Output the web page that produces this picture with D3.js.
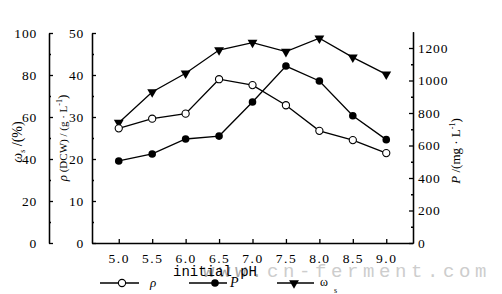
<!DOCTYPE html>
<html><head><meta charset="utf-8">
<script src="https://cdn.jsdelivr.net/npm/d3@7"></script>
<style>
body{margin:0;background:#fff;}
svg text{font-family:"Liberation Serif","Times New Roman",serif;fill:#000;}
</style></head>
<body><svg id="c" width="502" height="294"></svg>
<script>
const pH = [5.0, 5.5, 6.0, 6.5, 7.0, 7.5, 8.0, 8.5, 9.0];
const rho = [27.3, 29.6, 30.8, 39.0, 37.6, 32.8, 26.7, 24.5, 21.4];      // g/L
const P = [505, 548, 640, 658, 868, 1089, 997, 783, 636];               // mg/L
const omega = [57.3, 71.9, 80.8, 91.9, 95.4, 91.1, 97.5, 88.4, 80.3];   // %
const xTicks = [5.0, 5.5, 6.0, 6.5, 7.0, 7.5, 8.0, 8.5, 9.0];
const omegaTicks = [0, 20, 40, 60, 80, 100];
const rhoTicks = [0, 10, 20, 30, 40, 50];
const pTicks = [0, 200, 400, 600, 800, 1000, 1200];

const SERIF = "'Liberation Serif','Times New Roman',serif";
const MONO = "'Liberation Mono','Courier New',monospace";
const svg = d3.select("#c");
const x = d3.scaleLinear().domain([4.6, 9.4]).range([92, 413]);
const yO = d3.scaleLinear().domain([0, 100]).range([243, 33]);
const yR = d3.scaleLinear().domain([0, 50]).range([243, 33]);
const yP = d3.scaleLinear().domain([0, 1300]).range([243, 31.75]);

function styleAxis(g){
  g.attr("font-family", null);
  g.selectAll("path,line").attr("stroke","#000").attr("stroke-width",1.3);
  g.selectAll("text").style("font-family",SERIF).style("font-size","13.5px").attr("letter-spacing",0.8);
}
// omega axis
svg.append("g").attr("transform","translate(49,0)")
  .call(d3.axisLeft(yO).tickValues(omegaTicks).tickFormat(d3.format("d")).tickSize(-4).tickSizeOuter(0).tickPadding(12))
  .call(styleAxis);
svg.append("g").attr("transform","translate(49,0)")
  .call(d3.axisLeft(yO).tickValues(d3.range(10,100,20)).tickFormat("").tickSize(-2).tickSizeOuter(0))
  .call(styleAxis);
// rho axis
svg.append("g").attr("transform","translate(92,0)")
  .call(d3.axisLeft(yR).tickValues(rhoTicks).tickFormat(d3.format("d")).tickSize(-4).tickSizeOuter(0).tickPadding(8))
  .call(styleAxis);
svg.append("g").attr("transform","translate(92,0)")
  .call(d3.axisLeft(yR).tickValues(d3.range(5,50,10)).tickFormat("").tickSize(-2).tickSizeOuter(0))
  .call(styleAxis);
// P axis
svg.append("g").attr("transform","translate(413,0)")
  .call(d3.axisRight(yP).tickValues(pTicks).tickFormat(d3.format("d")).tickSize(-4).tickSizeOuter(0).tickPadding(5))
  .call(styleAxis);
svg.append("g").attr("transform","translate(413,0)")
  .call(d3.axisRight(yP).tickValues(d3.range(100,1300,200)).tickFormat("").tickSize(-2).tickSizeOuter(0))
  .call(styleAxis);
// x axis
svg.append("g").attr("transform","translate(0,243)")
  .call(d3.axisBottom(x).tickValues(xTicks).tickFormat(d3.format(".1f")).tickSize(-4).tickSizeOuter(0).tickPadding(10))
  .call(styleAxis)
  .selectAll("text").attr("letter-spacing",1.5);

// axis titles
const t1 = svg.append("text").attr("transform","translate(22,142) rotate(-90)").attr("text-anchor","middle").style("font-size","14px");
t1.append("tspan").attr("font-style","italic").text("ω");
t1.append("tspan").style("font-size","8px").attr("dy",3).text("s");
t1.append("tspan").attr("dy",-3).text(" /(%)");
const t2 = svg.append("text").attr("transform","translate(67,138) rotate(-90)").attr("text-anchor","middle").style("font-size","13px");
t2.append("tspan").attr("font-style","italic").text("ρ");
t2.append("tspan").style("font-size","11px").text(" (DCW) / (g · L");
t2.append("tspan").style("font-size","8px").attr("dy",-5).text("-1");
t2.append("tspan").attr("dy",5).text(")");
const t3 = svg.append("text").attr("transform","translate(460,151) rotate(-90)").attr("text-anchor","middle").style("font-size","13px");
t3.append("tspan").attr("font-style","italic").text("P");
t3.append("tspan").text(" /(mg · L");
t3.append("tspan").style("font-size","8px").attr("dy",-5).text("-1");
t3.append("tspan").attr("dy",5).text(")");

// watermark
const wm = svg.append("text").attr("x",203).attr("y",277)
  .style("font-family",MONO).style("font-size","19px").attr("letter-spacing",4.6);
wm.append("tspan").style("fill","#a8a8a8").text("www.");
wm.append("tspan").style("fill","#cdcdcd").text("cn-ferment.com");

svg.append("text").attr("x",215).attr("y",276).attr("text-anchor","middle")
  .style("font-family",MONO).style("font-size","14px").text("initial pH");

// series
const line = (ys, data) => d3.line().x((d,i)=>x(pH[i])).y(d=>ys(d))(data);
function series(ys, data){
  svg.append("path").attr("d", line(ys, data)).attr("fill","none").attr("stroke","#000").attr("stroke-width",1.3);
}
series(yO, omega); series(yR, rho); series(yP, P);
const tri = d3.symbol().type(d3.symbolTriangle).size(42);
svg.selectAll(".tri").data(omega).enter().append("path")
  .attr("d", tri).attr("transform",(d,i)=>`translate(${x(pH[i])},${yO(d)}) rotate(180)`).attr("fill","#000");
svg.selectAll(".oc").data(rho).enter().append("circle")
  .attr("cx",(d,i)=>x(pH[i])).attr("cy",d=>yR(d)).attr("r",3.6).attr("fill","#fff").attr("stroke","#000").attr("stroke-width",1.1);
svg.selectAll(".fc").data(P).enter().append("circle")
  .attr("cx",(d,i)=>x(pH[i])).attr("cy",d=>yP(d)).attr("r",3.8).attr("fill","#000");

// legend
const ly = 283;
const leg = svg.append("g");
leg.append("line").attr("x1",100).attr("x2",139).attr("y1",ly).attr("y2",ly).attr("stroke","#000").attr("stroke-width",1.3);
leg.append("circle").attr("cx",122).attr("cy",ly).attr("r",3.6).attr("fill","#fff").attr("stroke","#000").attr("stroke-width",1.1);
leg.append("text").attr("x",150).attr("y",ly+4).style("font-size","13px").attr("font-style","italic").text("ρ");
leg.append("line").attr("x1",189).attr("x2",227).attr("y1",ly).attr("y2",ly).attr("stroke","#000").attr("stroke-width",1.3);
leg.append("circle").attr("cx",215).attr("cy",ly).attr("r",3.8).attr("fill","#000");
leg.append("text").attr("x",230).attr("y",ly+4).style("font-size","14px").attr("font-style","italic").text("P");
leg.append("line").attr("x1",277).attr("x2",314).attr("y1",ly).attr("y2",ly).attr("stroke","#000").attr("stroke-width",1.3);
leg.append("path").attr("d",tri).attr("transform",`translate(294,${ly}) rotate(180)`).attr("fill","#000");
const lt = leg.append("text").attr("x",320).attr("y",ly+3).style("font-size","12px");
lt.append("tspan").text("ω");
lt.append("tspan").style("font-size","8px").attr("dx",6).attr("dy",7).text("s");
</script></body></html>
